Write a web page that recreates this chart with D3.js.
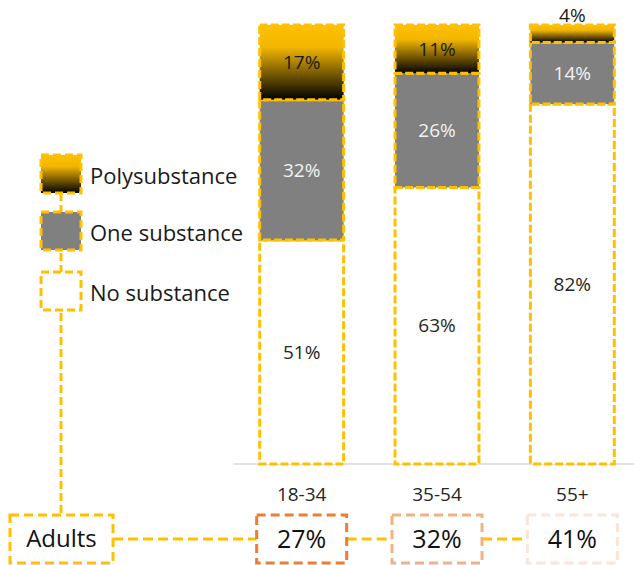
<!DOCTYPE html>
<html>
<head>
<meta charset="utf-8">
<script src="https://cdn.jsdelivr.net/npm/d3@7"></script>
<style>
  html, body { margin: 0; padding: 0; background: #fff; }
  svg { display: block; font-family: "Open Sans", Lato, sans-serif; }
</style>
</head>
<body>
<svg id="chart" width="634" height="565"></svg>
<script>
// ---- Data ----
const categories = ["18-34", "35-54", "55+"];
const noSubstance = [51, 63, 82];
const oneSubstance = [32, 26, 14];
const polysubstance = [17, 11, 4];
const adultsShare = [27, 32, 41];
const seriesNames = ["No substance", "One substance", "Polysubstance"];
const groupLabel = "Adults";

// ---- Setup ----
const svg = d3.select("#chart");
const gold = "#FFC000";
const boxColors = ["#ED7D31", "#F4B183", "#FBE5D6"];

const defs = svg.append("defs");
const grad = defs.append("linearGradient").attr("id", "polyGrad")
  .attr("x1", 0).attr("y1", 0).attr("x2", 0).attr("y2", 1);
grad.append("stop").attr("offset", "0%").attr("stop-color", "#FFC000");
grad.append("stop").attr("offset", "30%").attr("stop-color", "#F2B600");
grad.append("stop").attr("offset", "100%").attr("stop-color", "#000000");

const fills = ["#FFFFFF", "#808080", "url(#polyGrad)"];
const labelColors = ["#262626", "#F2F2F2", "#1a1a1a"];

const x = d3.scaleBand().domain(categories).range([234, 640])
  .paddingInner(0.38).paddingOuter(0.19);
const y = d3.scaleLinear().domain([0, 100]).range([464, 25]);

// stacked data
const table = categories.map((c, i) => ({
  cat: c,
  "No substance": noSubstance[i],
  "One substance": oneSubstance[i],
  "Polysubstance": polysubstance[i]
}));
const stacked = d3.stack().keys(seriesNames)(table);

// axis baseline
svg.append("line").attr("x1", 234).attr("x2", 634)
  .attr("y1", y(0)).attr("y2", y(0))
  .attr("stroke", "#D9D9D9").attr("stroke-width", 1.5);

// bars
const dash = "8,3";
stacked.forEach((layer, li) => {
  svg.append("g").selectAll("rect").data(layer).join("rect")
    .attr("x", d => x(d.data.cat))
    .attr("width", x.bandwidth())
    .attr("y", d => y(d[1]))
    .attr("height", d => y(d[0]) - y(d[1]))
    .attr("fill", fills[li])
    .attr("stroke", gold)
    .attr("stroke-width", 3)
    .attr("stroke-dasharray", dash);
});

// labels
stacked.forEach((layer, li) => {
  svg.append("g").selectAll("text").data(layer).join("text")
    .attr("x", d => x(d.data.cat) + x.bandwidth() / 2)
    .attr("y", d => {
      const h = y(d[0]) - y(d[1]);
      if (h < 25) return y(d[1]) - 10;
      return (y(d[0]) + y(d[1])) / 2;
    })
    .attr("dy", "0.35em")
    .attr("text-anchor", "middle")
    .attr("font-size", 19)
    .attr("fill", d => (y(d[0]) - y(d[1]) < 25) ? "#1a1a1a" : labelColors[li])
    .text(d => (d[1] - d[0]) + "%");
});

// category labels
svg.append("g").selectAll("text").data(categories).join("text")
  .attr("x", d => x(d) + x.bandwidth() / 2)
  .attr("y", 494)
  .attr("dy", "0.35em")
  .attr("text-anchor", "middle")
  .attr("font-size", 19)
  .attr("fill", "#262626")
  .text(d => d);

// legend
const legendItems = [
  { name: "Polysubstance", fill: fills[2], y: 155 },
  { name: "One substance", fill: fills[1], y: 212 },
  { name: "No substance", fill: fills[0], y: 272 }
];
const lx = 41, ls = 40, lh = 38;
const connectorX = lx + ls / 2;
svg.append("line").attr("x1", connectorX).attr("x2", connectorX)
  .attr("y1", legendItems[0].y + lh).attr("y2", 515)
  .attr("stroke", gold).attr("stroke-width", 3).attr("stroke-dasharray", "8,4");
const lg = svg.append("g");
legendItems.forEach(it => {
  lg.append("rect").attr("x", lx).attr("y", it.y).attr("width", ls).attr("height", lh)
    .attr("fill", it.fill).attr("stroke", gold).attr("stroke-width", 3)
    .attr("stroke-dasharray", "8,4");
  lg.append("text").attr("x", lx + ls + 9).attr("y", it.y + lh / 2 + 2)
    .attr("dy", "0.35em").attr("font-size", 22).attr("fill", "#1a1a1a")
    .text(it.name);
});

// bottom boxes
const boxY = 515, boxH = 48, boxW = 90;
const midY = boxY + boxH / 2;
const adultsX0 = 10, adultsX1 = 113;
const centers = categories.map(c => x(c) + x.bandwidth() / 2);
for (let i = 0; i < categories.length; i++) {
  const a = i === 0 ? adultsX1 : centers[i - 1] + boxW / 2;
  const b = centers[i] - boxW / 2;
  svg.append("line").attr("x1", a).attr("x2", b).attr("y1", midY).attr("y2", midY)
    .attr("stroke", gold).attr("stroke-width", 3).attr("stroke-dasharray", "10,5");
}
svg.append("rect").attr("x", adultsX0).attr("y", boxY)
  .attr("width", adultsX1 - adultsX0).attr("height", boxH)
  .attr("fill", "#fff").attr("stroke", gold).attr("stroke-width", 3)
  .attr("stroke-dasharray", "9,5");
svg.append("text").attr("x", (adultsX0 + adultsX1) / 2).attr("y", midY)
  .attr("dy", "0.35em").attr("text-anchor", "middle").attr("font-size", 24)
  .attr("fill", "#111").text(groupLabel);

svg.append("g").selectAll("g").data(adultsShare).join("g").each(function (v, i) {
  const g = d3.select(this);
  g.append("rect").attr("x", centers[i] - boxW / 2).attr("y", boxY)
    .attr("width", boxW).attr("height", boxH)
    .attr("fill", "#fff").attr("stroke", boxColors[i]).attr("stroke-width", 3)
    .attr("stroke-dasharray", "9,5");
  g.append("text").attr("x", centers[i]).attr("y", midY)
    .attr("dy", "0.35em").attr("text-anchor", "middle").attr("font-size", 25)
    .attr("fill", "#111").text(v + "%");
});
</script>
</body>
</html>
